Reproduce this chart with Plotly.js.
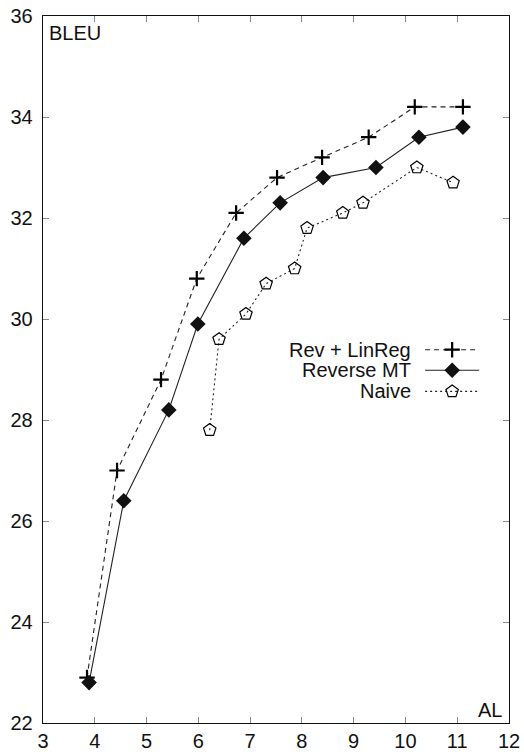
<!DOCTYPE html>
<html><head><meta charset="utf-8">
<script src="https://cdn.plot.ly/plotly-3.0.1.min.js"></script>
<style>html,body{margin:0;padding:0;background:#fff}#chart{width:524px;height:754px}</style>
</head><body><div id="chart"></div>
<script>
// Data
const seriesNames = ["Rev + LinReg", "Reverse MT", "Naive"];
const revLinRegAL   = [3.85, 4.43, 5.28, 5.97, 6.73, 7.52, 8.39, 9.29, 10.18, 11.11];
const revLinRegBLEU = [22.9, 27.0, 28.8, 30.8, 32.1, 32.8, 33.2, 33.6, 34.2, 34.2];
const reverseMTAL   = [3.89, 4.56, 5.43, 5.99, 6.88, 7.58, 8.41, 9.43, 10.26, 11.11];
const reverseMTBLEU = [22.8, 26.4, 28.2, 29.9, 31.6, 32.3, 32.8, 33.0, 33.6, 33.8];
const naiveAL       = [6.22, 6.40, 6.92, 7.31, 7.86, 8.10, 8.79, 9.18, 10.22, 10.92];
const naiveBLEU     = [27.8, 29.6, 30.1, 30.7, 31.0, 31.8, 32.1, 32.3, 33.0, 32.7];
const xTicks = [3,4,5,6,7,8,9,10,11,12];
const yTicks = [22,24,26,28,30,32,34,36];

const FONT = "Liberation Sans, Arial, Helvetica, sans-serif";
const styles = [
  {dash: "5px,4px", symbol: "cross-thin-open", size: 11, lw: 2.2, fill: "#000"},
  {dash: "solid",   symbol: "diamond", size: 12, lw: 0, fill: "#111"},
  {dash: "2px,3px", symbol: "pentagon-open", size: 13, lw: 1.2, fill: "#000"}
];
const xs = [revLinRegAL, reverseMTAL, naiveAL];
const ys = [revLinRegBLEU, reverseMTBLEU, naiveBLEU];

const traces = [];
for (let i = 0; i < 3; i++) {
  traces.push({
    x: xs[i], y: ys[i], mode: "lines+markers", name: seriesNames[i], showlegend: false,
    line: {color: "#222", width: 1.1, dash: styles[i].dash},
    marker: {symbol: styles[i].symbol, size: styles[i].size, color: styles[i].fill,
             line: {color: "#111", width: styles[i].lw}}
  });
}
// custom legend (text left of sample) on a hidden paper-like axis pair
const legY = [0.528, 0.499, 0.469];
const legX0 = 0.820, legX1 = 0.936, legXm = 0.878;
const annotations = [];
for (let i = 0; i < 3; i++) {
  traces.push({
    x: [legX0, legX1], y: [legY[i], legY[i]], xaxis: "x2", yaxis: "y2", mode: "lines",
    showlegend: false, hoverinfo: "skip",
    line: {color: "#222", width: 1.1, dash: styles[i].dash}
  });
  traces.push({
    x: [legXm], y: [legY[i]], xaxis: "x2", yaxis: "y2", mode: "markers",
    showlegend: false, hoverinfo: "skip",
    marker: {symbol: styles[i].symbol, size: styles[i].size, color: styles[i].fill,
             line: {color: "#111", width: styles[i].lw}}
  });
  annotations.push({
    xref: "paper", yref: "paper", x: 0.793, y: legY[i], xanchor: "right", yanchor: "middle",
    text: seriesNames[i], showarrow: false, font: {family: FONT, size: 20, color: "#111"}
  });
}
annotations.push({xref: "paper", yref: "paper", x: 0.008, y: 0.995, xanchor: "left", yanchor: "top",
  text: "BLEU", showarrow: false, font: {family: FONT, size: 20, color: "#111"}});
annotations.push({xref: "paper", yref: "paper", x: 0.99, y: 0.0, xanchor: "right", yanchor: "bottom",
  text: "AL", showarrow: false, font: {family: FONT, size: 20, color: "#111"}});

const layout = {
  width: 524, height: 754,
  margin: {l: 43, r: 15, t: 16, b: 31},
  paper_bgcolor: "#fff", plot_bgcolor: "#fff",
  font: {family: FONT, size: 20, color: "#111"},
  xaxis: {range: [3, 12], tickvals: xTicks, ticks: "inside", ticklen: 6, tickcolor: "#888",
          showline: true, linecolor: "#111", linewidth: 1.3, mirror: "ticks", showgrid: false,
          zeroline: false, tickfont: {family: FONT, size: 20, color: "#111"}},
  yaxis: {range: [22, 36], tickvals: yTicks, ticks: "inside", ticklen: 6, tickcolor: "#888",
          showline: true, linecolor: "#111", linewidth: 1.3, mirror: "ticks", showgrid: false,
          zeroline: false, ticklabelstandoff: 5, tickfont: {family: FONT, size: 20, color: "#111"}},
  xaxis2: {range: [0, 1], overlaying: "x", visible: false, fixedrange: true},
  yaxis2: {range: [0, 1], overlaying: "y", visible: false, fixedrange: true},
  annotations: annotations,
  showlegend: false
};
Plotly.newPlot("chart", traces, layout, {displayModeBar: false, staticPlot: true});
</script></body></html>
